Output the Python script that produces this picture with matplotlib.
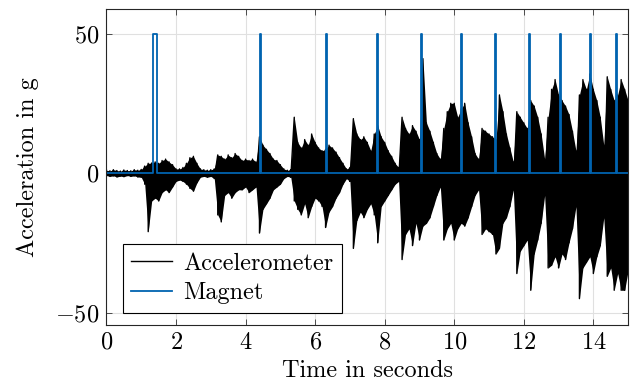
import numpy as np
import matplotlib
matplotlib.use("Agg")
import matplotlib.pyplot as plt

# --- данные ---
# огибающая сигнала акселерометра, шаг 0.1 с (0 .. 15 с)
acc_upper = [
    1.0, 0.8, 1.2, 0.9, 0.7, 1.1, 0.9, 0.8, 1.2, 1.0,
    1.3, 2.5, 3.5, 3.6, 4.0, 3.5, 4.5, 5.0, 4.0, 3.0,
    1.5, 1.5, 2.0, 3.5, 5.5, 6.0, 3.5, 1.5, 1.2, 1.0,
    1.2, 1.5, 6.5, 6.0, 5.0, 6.5, 5.5, 7.0, 6.0, 4.5,
    5.0, 4.5, 5.0, 4.0, 13.0, 10.0, 8.5, 7.0, 5.0, 4.5,
    3.0, 1.5, 1.0, 1.2, 20.0, 11.0, 9.0, 12.0, 10.0, 14.0,
    11.0, 9.0, 8.0, 8.5, 10.0, 9.0, 7.5, 5.5, 3.5, 1.5,
    2.0, 19.5, 14.0, 12.0, 13.0, 11.0, 8.0, 14.0, 17.0, 13.0,
    11.0, 8.0, 6.0, 3.5, 2.0, 20.0, 16.0, 14.0, 17.0, 15.0,
    12.0, 41.0, 18.0, 15.0, 11.0, 7.0, 5.0, 16.0, 22.0, 25.0,
    25.0, 20.0, 23.0, 25.0, 18.0, 13.0, 7.0, 5.0, 16.0, 15.0,
    14.0, 13.0, 12.0, 28.0, 22.0, 14.0, 9.0, 4.0, 22.0, 20.0,
    18.0, 16.0, 26.0, 24.0, 20.0, 14.0, 5.0, 20.0, 30.0, 33.5,
    28.0, 26.0, 24.0, 21.0, 15.0, 8.0, 28.0, 33.5, 30.0, 35.5,
    30.0, 26.0, 20.0, 10.0, 34.5, 30.0, 26.0, 28.0, 33.5, 30.0,
    26.0,
]
acc_lower = [
    -0.9, -1.2, -1.0, -1.4, -1.1, -1.3, -0.9, -1.2, -1.0, -1.4,
    -1.5, -4.0, -21.0, -10.0, -9.0, -10.0, -7.0, -6.0, -7.0, -5.0,
    -3.0, -2.5, -3.0, -4.0, -5.5, -6.5, -3.5, -1.5, -1.2, -1.5,
    -1.2, -2.0, -15.0, -17.5, -8.0, -7.0, -9.0, -7.0, -6.0, -6.0,
    -5.0, -7.0, -6.0, -5.0, -21.5, -13.0, -11.0, -9.0, -6.0, -5.0,
    -4.0, -2.0, -1.2, -1.5, -10.0, -13.0, -15.0, -11.0, -16.0, -12.0,
    -9.0, -10.0, -12.0, -19.5, -14.0, -12.0, -9.0, -7.0, -4.0, -2.0,
    -3.0, -27.0, -17.0, -14.0, -16.0, -13.0, -11.0, -15.0, -25.0, -12.0,
    -10.0, -8.0, -6.0, -4.0, -3.0, -31.0, -22.0, -20.0, -26.0, -18.0,
    -24.0, -19.0, -18.0, -16.0, -12.0, -8.0, -5.0, -24.0, -20.0, -18.0,
    -24.0, -20.0, -18.0, -19.0, -16.0, -12.0, -8.0, -6.0, -22.0, -20.0,
    -21.0, -22.0, -29.0, -27.0, -18.0, -16.0, -12.0, -6.0, -36.0, -28.0,
    -26.0, -24.0, -42.0, -29.0, -24.0, -18.0, -8.0, -34.0, -33.0, -30.0,
    -34.0, -29.0, -31.0, -25.0, -20.0, -12.0, -45.0, -34.0, -32.0, -30.0,
    -36.0, -30.0, -26.0, -16.0, -37.0, -34.0, -42.0, -36.0, -42.0, -42.0,
    -35.0,
]
acc_time = np.arange(len(acc_upper)) * 0.1

# импульсы магнитного датчика: начало и длительность, с
magnet_on = [1.33, 4.42, 6.31, 7.78, 9.05, 10.20, 11.18, 12.15, 13.03, 13.89, 14.66]
magnet_width = [0.12, 0.03, 0.03, 0.03, 0.03, 0.03, 0.03, 0.03, 0.03, 0.03, 0.03]
magnet_level = 50

# --- оформление ---
plt.rcParams['font.family'] = 'cmr10'
plt.rcParams['axes.formatter.use_mathtext'] = True
plt.rcParams['mathtext.fontset'] = 'cm'
fs = 17.5

fig = plt.figure(figsize=(6.3, 3.9), dpi=100)
ax = fig.add_axes([0.169, 0.167, 0.828, 0.810])

# акселерометр: заливка огибающей + зигзаг для "рваного" края
ax.fill_between(acc_time, acc_lower, acc_upper, color='black', linewidth=0)
zig_t = np.repeat(acc_time, 2)
zig_y = np.column_stack([acc_upper, acc_lower]).ravel()
ax.plot(zig_t, zig_y, color='black', linewidth=1.0, label='Accelerometer')

# магнит: ступенчатый сигнал
mt = [0.0]
my = [0.0]
for on, w in zip(magnet_on, magnet_width):
    mt += [on, on, on + w, on + w]
    my += [0, magnet_level, magnet_level, 0]
mt.append(15.0)
my.append(0.0)
ax.plot(mt, my, color='#0063B0', linewidth=1.3, label='Magnet')

ax.set_xlim(0, 15)
ax.set_ylim(-54.4, 58.8)
ax.set_xticks([0, 2, 4, 6, 8, 10, 12, 14])
ax.set_yticks([-50, 0, 50])
ax.grid(True, color='#e0e0e0', linewidth=0.8)
ax.set_axisbelow(True)
ax.tick_params(direction='in', top=True, right=True, length=4, width=0.6,
               labelsize=fs, colors='#333333', labelcolor='black', pad=5)
for s in ax.spines.values():
    s.set_linewidth(0.8)
    s.set_color('#262626')

ax.set_xlabel('Time in seconds', fontsize=fs, labelpad=4)
ax.set_ylabel('Acceleration in g', fontsize=fs, labelpad=12)

leg = ax.legend(loc='lower left', bbox_to_anchor=(0.031, 0.038), borderaxespad=0,
                fontsize=fs, fancybox=False, framealpha=1, edgecolor='black',
                handlelength=1.7, borderpad=0.35, labelspacing=0.3, handletextpad=0.45)
leg.get_frame().set_linewidth(0.8)

fig.savefig('out.png', dpi=100)
